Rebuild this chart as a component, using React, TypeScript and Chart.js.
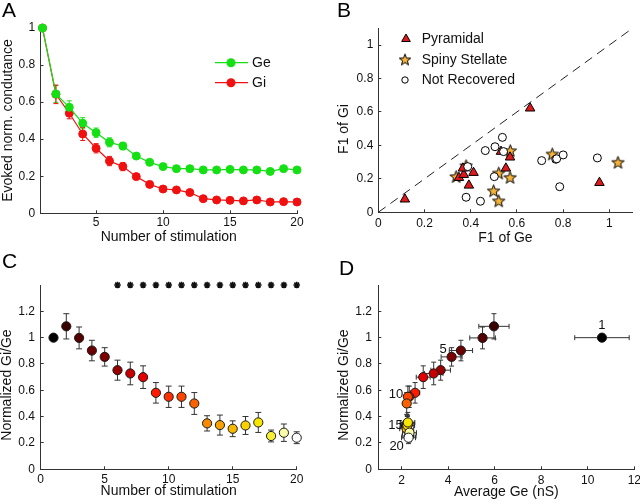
import React, { useEffect, useRef } from 'react';
import { Chart, registerables } from 'chart.js';

Chart.register(...registerables);

const FONT = '"Liberation Sans", Arial, Helvetica, sans-serif';
const AXIS = '#333333';
const TEXT = '#111111';
const GREEN = '#14e014';
const RED = '#f01010';

// ---------------- Panel A: evoked normalized conductance ----------------
const stimulation = [1, 2, 3, 4, 5, 6, 7, 8, 9, 10, 11, 12, 13, 14, 15, 16, 17, 18, 19, 20];
const geNorm = [1.0, 0.644, 0.572, 0.486, 0.435, 0.383, 0.363, 0.309, 0.275, 0.252, 0.241, 0.241, 0.234, 0.234, 0.237, 0.234, 0.234, 0.226, 0.241, 0.234];
const geNormErr = [0, 0.045, 0.035, 0.03, 0.025, 0.024, 0.02, 0.015, 0.012, 0.01, 0.01, 0.01, 0.01, 0.01, 0.01, 0.01, 0.012, 0.01, 0.012, 0.01];
const giNorm = [1.0, 0.642, 0.54, 0.428, 0.351, 0.282, 0.252, 0.198, 0.156, 0.131, 0.126, 0.112, 0.079, 0.072, 0.07, 0.067, 0.072, 0.061, 0.063, 0.061];
const giNormErr = [0, 0.05, 0.03, 0.035, 0.025, 0.025, 0.022, 0.016, 0.015, 0.012, 0.012, 0.012, 0.012, 0.012, 0.012, 0.012, 0.012, 0.012, 0.012, 0.012];
const aXTicks = [5, 10, 15, 20];
const aYTicks = [0, 0.2, 0.4, 0.6, 0.8, 1];

// ---------------- Panel B: F1 of Gi vs F1 of Ge ----------------
const pyrF1Ge = [0.115, 0.349, 0.37, 0.366, 0.392, 0.412, 0.531, 0.552, 0.57, 0.657, 0.957];
const pyrF1Gi = [0.078, 0.207, 0.225, 0.263, 0.161, 0.237, 0.363, 0.263, 0.329, 0.622, 0.177];
const ssF1Ge = [0.337, 0.38, 0.521, 0.57, 0.571, 0.499, 0.521, 0.753, 1.037];
const ssF1Gi = [0.214, 0.279, 0.235, 0.209, 0.369, 0.129, 0.069, 0.349, 0.299];
const nrF1Ge = [0.38, 0.442, 0.463, 0.505, 0.537, 0.542, 0.502, 0.707, 0.768, 0.772, 0.8, 0.785, 0.948, 0.387];
const nrF1Gi = [0.09, 0.066, 0.369, 0.392, 0.448, 0.363, 0.213, 0.309, 0.317, 0.32, 0.343, 0.153, 0.325, 0.273];
const identityLine = [0, 1.1];
const bTicks = [0, 0.2, 0.4, 0.6, 0.8, 1];

// ---------------- Panel C: normalized Gi/Ge ----------------
const ratioMean = [1.0, 1.086, 0.998, 0.902, 0.854, 0.753, 0.728, 0.7, 0.581, 0.551, 0.551, 0.5, 0.349, 0.336, 0.308, 0.333, 0.356, 0.253, 0.278, 0.24];
const ratioErr = [0, 0.096, 0.083, 0.078, 0.07, 0.076, 0.086, 0.086, 0.078, 0.081, 0.081, 0.083, 0.058, 0.076, 0.06, 0.068, 0.076, 0.045, 0.066, 0.045];
const significantStims = [6, 7, 8, 9, 10, 11, 12, 13, 14, 15, 16, 17, 18, 19, 20];
const significanceLevel = 1.4;
const cXTicks = [0, 5, 10, 15, 20];
const ratioTicks = [0, 0.2, 0.4, 0.6, 0.8, 1, 1.2];

// ---------------- Panel D: Gi/Ge vs average Ge ----------------
const avgGe = [10.61, 5.97, 5.48, 4.55, 4.15, 3.68, 3.38, 2.93, 2.58, 2.33, 2.27, 2.22, 2.24, 2.26, 2.22, 2.25, 2.27, 2.32, 2.34, 2.3];
const avgGeErr = [1.17, 0.65, 0.55, 0.5, 0.45, 0.42, 0.4, 0.3, 0.2, 0.15, 0.15, 0.15, 0.3, 0.3, 0.3, 0.3, 0.3, 0.3, 0.3, 0.3];
const dXTicks = [2, 4, 6, 8, 10, 12];
const labeledStims = [1, 5, 10, 15, 20];

// colours (hot colormap) for stimulation number
const hotColors = ['#000000', '#3a0303', '#520000', '#6b0000', '#7d0000', '#960000', '#c40000', '#e40000', '#ff1a00', '#ff3000', '#ff4400', '#f86200', '#f88a00', '#f8a200', '#f8b800', '#f8d000', '#f8e600', '#f6f034', '#fafaa8', '#ffffff'];

const fmt = (v: number) => String(Math.round(v * 100) / 100);

function xAxisCfg(min: number, max: number, ticks: number[], height: number, tickPad: number, title: string, titlePad: number) {
  return {
    type: 'linear', position: 'bottom', min, max,
    afterBuildTicks: (s: any) => { s.ticks = ticks.map((v) => ({ value: v })); },
    afterFit: (s: any) => { s.height = height; s.paddingLeft = 0; s.paddingRight = 0; s.paddingTop = 0; s.paddingBottom = 0; },
    grid: { display: true, drawOnChartArea: false, drawTicks: true, tickLength: -3, tickColor: AXIS, tickWidth: 1 },
    border: { display: true, color: AXIS, width: 1 },
    ticks: { padding: tickPad, autoSkip: false, maxRotation: 0, minRotation: 0, font: { family: FONT, size: 12 }, color: TEXT, callback: (v: any) => fmt(Number(v)) },
    title: { display: true, text: title, font: { family: FONT, size: 14 }, color: TEXT, padding: { top: 0, bottom: titlePad } },
  };
}

function yAxisCfg(min: number, max: number, ticks: number[], width: number, tickPad: number) {
  return {
    type: 'linear', position: 'left', min, max,
    afterBuildTicks: (s: any) => { s.ticks = ticks.map((v) => ({ value: v })); },
    afterFit: (s: any) => { s.width = width; s.paddingLeft = 0; s.paddingRight = 0; s.paddingTop = 0; s.paddingBottom = 0; },
    grid: { display: true, drawOnChartArea: false, drawTicks: true, tickLength: -3, tickColor: AXIS, tickWidth: 1 },
    border: { display: true, color: AXIS, width: 1 },
    ticks: { padding: tickPad, autoSkip: false, font: { family: FONT, size: 12 }, color: TEXT, callback: (v: any) => fmt(Number(v)) },
    title: { display: false },
  };
}

const errorBarsPlugin = {
  id: 'errorBars',
  beforeDatasetsDraw(chart: any) {
    const { ctx } = chart;
    const xs = chart.scales.x;
    const ys = chart.scales.y;
    chart.data.datasets.forEach((ds: any) => {
      if (!ds.errY && !ds.errX) return;
      ctx.save();
      ctx.strokeStyle = ds.errColor || '#333';
      ctx.lineWidth = 1;
      const cap = ds.capW ?? 3;
      ds.data.forEach((p: any, i: number) => {
        const px = xs.getPixelForValue(p.x);
        const py = ys.getPixelForValue(p.y);
        const ey = ds.errY ? ds.errY[i] : 0;
        const ex = ds.errX ? ds.errX[i] : 0;
        ctx.beginPath();
        if (ey) {
          const y1 = ys.getPixelForValue(p.y + ey);
          const y2 = ys.getPixelForValue(p.y - ey);
          ctx.moveTo(px, y1); ctx.lineTo(px, y2);
          ctx.moveTo(px - cap, y1); ctx.lineTo(px + cap, y1);
          ctx.moveTo(px - cap, y2); ctx.lineTo(px + cap, y2);
        }
        if (ex) {
          const x1 = xs.getPixelForValue(p.x - ex);
          const x2 = xs.getPixelForValue(p.x + ex);
          ctx.moveTo(x1, py); ctx.lineTo(x2, py);
          ctx.moveTo(x1, py - cap); ctx.lineTo(x1, py + cap);
          ctx.moveTo(x2, py - cap); ctx.lineTo(x2, py + cap);
        }
        ctx.stroke();
      });
      ctx.restore();
    });
  },
};

function annot(letter: string, lx: number, ly: number, yTitle: string, tx: number, ty: number, extra?: (chart: any, ctx: CanvasRenderingContext2D) => void) {
  return {
    id: 'annot',
    afterDraw(chart: any) {
      const ctx: CanvasRenderingContext2D = chart.ctx;
      ctx.save();
      ctx.fillStyle = '#000';
      ctx.font = `21px ${FONT}`;
      ctx.textAlign = 'left';
      ctx.textBaseline = 'alphabetic';
      ctx.fillText(letter, lx, ly);
      ctx.translate(tx, ty);
      ctx.rotate(-Math.PI / 2);
      ctx.font = `14px ${FONT}`;
      ctx.fillStyle = TEXT;
      ctx.textAlign = 'center';
      ctx.textBaseline = 'middle';
      ctx.fillText(yTitle, 0, 0);
      ctx.restore();
      if (extra) { ctx.save(); extra(chart, ctx); ctx.restore(); }
    },
  };
}

function makeStar(outer: number, fill: string) {
  const size = Math.ceil(outer * 2 + 4);
  const c = document.createElement('canvas');
  c.width = size; c.height = size;
  const g = c.getContext('2d')!;
  const cx = size / 2, cy = size / 2 + 0.6;
  g.beginPath();
  for (let k = 0; k < 10; k++) {
    const r = k % 2 === 0 ? outer : outer * 0.42;
    const a = -Math.PI / 2 + (k * Math.PI) / 5;
    const X = cx + r * Math.cos(a), Y = cy + r * Math.sin(a);
    if (k === 0) g.moveTo(X, Y); else g.lineTo(X, Y);
  }
  g.closePath();
  g.fillStyle = fill; g.fill();
  g.lineWidth = 1; g.strokeStyle = '#000'; g.stroke();
  return c;
}

const base = { responsive: false, maintainAspectRatio: false, animation: false, devicePixelRatio: 1, events: [] as string[] };

function configA(): any {
  const ge = stimulation.map((s, i) => ({ x: s, y: geNorm[i] }));
  const gi = stimulation.map((s, i) => ({ x: s, y: giNorm[i] }));
  const legend = (chart: any, ctx: CanvasRenderingContext2D) => {
    const rows = [{ t: 'Ge', c: GREEN, y: 62.7 }, { t: 'Gi', c: RED, y: 82.7 }];
    rows.forEach((r) => {
      ctx.strokeStyle = r.c; ctx.lineWidth = 1.2;
      ctx.beginPath(); ctx.moveTo(215, r.y); ctx.lineTo(248, r.y); ctx.stroke();
      ctx.fillStyle = r.c; ctx.beginPath(); ctx.arc(231, r.y, 4.5, 0, Math.PI * 2); ctx.fill();
      ctx.fillStyle = TEXT; ctx.font = `14px ${FONT}`; ctx.textAlign = 'left'; ctx.textBaseline = 'middle';
      ctx.fillText(r.t, 252, r.y + 0.5);
    });
  };
  return {
    type: 'line',
    data: {
      datasets: [
        { label: 'Ge', data: ge, borderColor: GREEN, backgroundColor: GREEN, pointBackgroundColor: GREEN, pointBorderColor: GREEN, pointRadius: 4, pointBorderWidth: 1, borderWidth: 1.2, errY: geNormErr, errColor: GREEN, capW: 2.5, clip: false },
        { label: 'Gi', data: gi, borderColor: RED, backgroundColor: RED, pointBackgroundColor: RED, pointBorderColor: RED, pointRadius: 4, pointBorderWidth: 1, borderWidth: 1.2, errY: giNormErr, errColor: RED, capW: 2.5, clip: false },
      ],
    },
    options: {
      ...base,
      layout: { padding: { left: 0, top: 28, right: 23, bottom: 0 } },
      plugins: { legend: { display: false }, tooltip: { enabled: false } },
      elements: { line: { tension: 0 } },
      scales: {
        x: xAxisCfg(0.85, 20, aXTicks, 38.7, 5, 'Number of stimulation', 6),
        y: yAxisCfg(0, 1, aYTicks, 40.5, 8.3),
      },
    },
    plugins: [errorBarsPlugin, annot('A', 2, 17, 'Evoked norm. condutance', 8.5, 120.5, legend)],
  };
}

function configB(): any {
  const star = makeStar(6.5, '#f5b33a');
  const starSmall = makeStar(6, '#f5b33a');
  const legend = (chart: any, ctx: CanvasRenderingContext2D) => {
    ctx.lineWidth = 1; ctx.strokeStyle = '#000';
    // triangle
    const tx = 86, ty = 39, r = 5;
    ctx.fillStyle = '#e0191c';
    ctx.beginPath();
    ctx.moveTo(tx, ty - r); ctx.lineTo(tx + r * 0.866, ty + r * 0.5); ctx.lineTo(tx - r * 0.866, ty + r * 0.5); ctx.closePath();
    ctx.fill(); ctx.stroke();
    ctx.drawImage(starSmall, 85 - starSmall.width / 2, 59.5 - starSmall.height / 2);
    ctx.fillStyle = '#fff';
    ctx.beginPath(); ctx.arc(85, 80, 3.2, 0, Math.PI * 2); ctx.fill(); ctx.stroke();
    ctx.fillStyle = TEXT; ctx.font = `14px ${FONT}`; ctx.textAlign = 'left'; ctx.textBaseline = 'middle';
    ctx.fillText('Pyramidal', 101.7, 39.5);
    ctx.fillText('Spiny Stellate', 101.7, 60.5);
    ctx.fillText('Not Recovered', 101.7, 80.5);
  };
  return {
    type: 'scatter',
    data: {
      datasets: [
        { label: 'identity', data: identityLine.map((v) => ({ x: v, y: v })), showLine: true, borderColor: '#222', borderWidth: 1, borderDash: [9, 6], pointRadius: 0, clip: false },
        { label: 'Not Recovered', data: nrF1Ge.map((x, i) => ({ x, y: nrF1Gi[i] })), pointStyle: 'circle', pointRadius: 4, pointBackgroundColor: '#fff', pointBorderColor: '#000', pointBorderWidth: 1, clip: false },
        { label: 'Pyramidal', data: pyrF1Ge.map((x, i) => ({ x, y: pyrF1Gi[i] })), pointStyle: 'triangle', pointRadius: 5.5, pointBackgroundColor: '#e0191c', pointBorderColor: '#000', pointBorderWidth: 1, clip: false },
        { label: 'Spiny Stellate', data: ssF1Ge.map((x, i) => ({ x, y: ssF1Gi[i] })), pointStyle: star, pointRadius: 6.5, clip: false },
      ],
    },
    options: {
      ...base,
      layout: { padding: { left: 0, top: 28.3, right: 5, bottom: 0 } },
      plugins: { legend: { display: false }, tooltip: { enabled: false } },
      scales: {
        x: xAxisCfg(0, 1.1, bTicks, 39.7, 6.8, 'F1 of Ge', 5.1),
        y: yAxisCfg(0, 1.1, bTicks, 58.3, 8),
      },
    },
    plugins: [annot('B', 17, 17, 'F1 of Gi', 24.2, 129, legend)],
  };
}

function configC(): any {
  return {
    type: 'scatter',
    data: {
      datasets: [
        { label: 'Gi/Ge', data: stimulation.map((s, i) => ({ x: s, y: ratioMean[i] })), pointRadius: 4.6, pointBackgroundColor: hotColors, pointBorderColor: '#1a1a1a', pointBorderWidth: 1, errY: ratioErr, errColor: '#333', capW: 3, clip: false },
        { label: 'significant', data: significantStims.map((s) => ({ x: s, y: significanceLevel })), pointStyle: 'star', pointRadius: 3.3, pointBorderColor: '#111', pointBorderWidth: 1.6, clip: false },
      ],
    },
    options: {
      ...base,
      layout: { padding: { left: 0, top: 33, right: 23.3, bottom: 0 } },
      plugins: { legend: { display: false }, tooltip: { enabled: false } },
      scales: {
        x: xAxisCfg(0, 20, cXTicks, 34.7, 5.7, 'Number of stimulation', 4.8),
        y: yAxisCfg(0, 1.4, ratioTicks, 40.7, 8.7),
      },
    },
    plugins: [errorBarsPlugin, annot('C', 2, 16, 'Normalized Gi/Ge', 6.8, 133)],
  };
}

function configD(): any {
  const labelOffsets: Record<number, [number, number, CanvasTextAlign]> = {
    1: [0, -12, 'center'],
    5: [-5, -7.7, 'right'],
    10: [-6, -2, 'right'],
    15: [-4, -3.5, 'right'],
    20: [-4.7, 8.4, 'right'],
  };
  const labels = (chart: any, ctx: CanvasRenderingContext2D) => {
    const xs = chart.scales.x, ys = chart.scales.y;
    ctx.fillStyle = TEXT; ctx.font = `13px ${FONT}`; ctx.textBaseline = 'middle';
    labeledStims.forEach((s) => {
      const i = s - 1;
      const [dx, dy, al] = labelOffsets[s];
      ctx.textAlign = al;
      ctx.fillText(String(s), xs.getPixelForValue(avgGe[i]) + dx, ys.getPixelForValue(ratioMean[i]) + dy);
    });
  };
  return {
    type: 'scatter',
    data: {
      datasets: [
        { label: 'Gi/Ge vs Ge', data: avgGe.map((x, i) => ({ x, y: ratioMean[i] })), pointRadius: 4.6, pointBackgroundColor: hotColors, pointBorderColor: '#1a1a1a', pointBorderWidth: 1, errY: ratioErr, errX: avgGeErr, errColor: '#333', capW: 2.5, clip: false },
      ],
    },
    options: {
      ...base,
      layout: { padding: { left: 0, top: 33, right: 5.7, bottom: 0 } },
      plugins: { legend: { display: false }, tooltip: { enabled: false } },
      scales: {
        x: xAxisCfg(1, 12, dXTicks, 34.7, 7.3, 'Average Ge (nS)', 3.8),
        y: yAxisCfg(0, 1.4, ratioTicks, 58.3, 9.3),
      },
    },
    plugins: [errorBarsPlugin, annot('D', 19, 23, 'Normalized Gi/Ge', 23.8, 133, labels)],
  };
}

function Panel({ make, left, top }: { make: () => any; left: number; top: number }) {
  const ref = useRef<HTMLCanvasElement>(null);
  useEffect(() => {
    const chart = new Chart(ref.current as HTMLCanvasElement, make());
    return () => chart.destroy();
  }, [make]);
  return (
    <canvas ref={ref} width={320} height={252} style={{ position: 'absolute', left, top, width: 320, height: 252 }} />
  );
}

export default function App() {
  return (
    <div style={{ position: 'fixed', left: 0, top: 0, width: 640, height: 504, background: '#ffffff', overflow: 'hidden' }}>
      <Panel make={configA} left={0} top={0} />
      <Panel make={configB} left={320} top={0} />
      <Panel make={configC} left={0} top={252} />
      <Panel make={configD} left={320} top={252} />
    </div>
  );
}
